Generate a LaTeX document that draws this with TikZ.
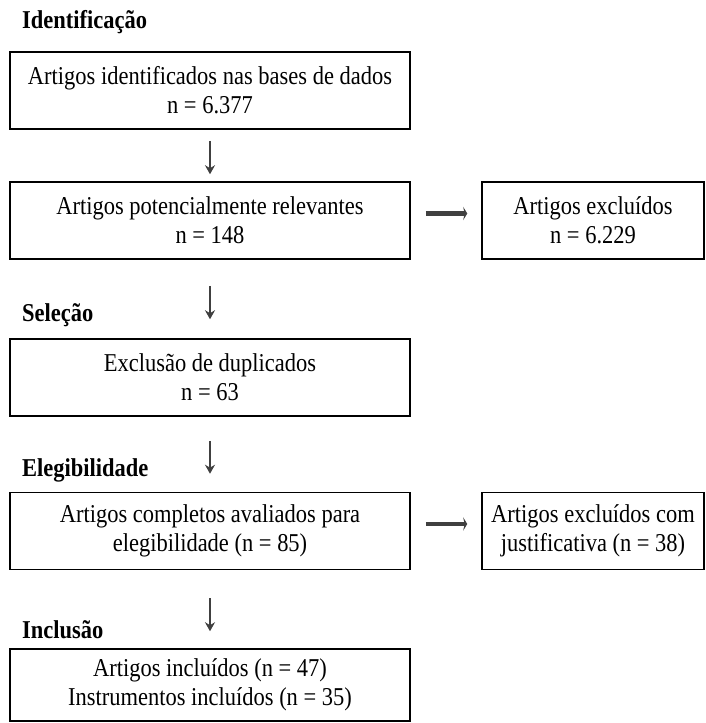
\documentclass[tikz,border=0pt]{standalone}
\usepackage{fontspec}
\setmainfont{Liberation Serif}[FakeStretch=0.875]
\usetikzlibrary{arrows.meta}
\tikzset{
  caixa/.style={draw, line width=1.5pt, align=center, minimum width=400pt, minimum height=77pt, inner sep=0pt, font=\fontsize{25.7}{29}\selectfont},
  caixadir/.style={caixa, minimum width=222pt},
  fase/.style={anchor=west, inner sep=0pt, font=\fontsize{25.7}{29}\selectfont\bfseries},
  seta/.style={draw=black!75, line width=1.8pt, -{Stealth[length=9pt,width=10pt]}},
  setagrossa/.style={draw=black!75, line width=4.5pt, -{Stealth[length=4pt,width=13pt]}}
}
\begin{document}
\begin{tikzpicture}[x=1pt,y=-1pt]
    \useasboundingbox (0,0) rectangle (705,723);
    % fases
    \node[fase] (ident) at (22,22) {Identificação};
    \node[fase] (selec) at (22,315) {Seleção};
    \node[fase] (elegi) at (22,470) {Elegibilidade};
    \node[fase] (inclu) at (22,630) {Inclusão};
    % caixas
    \node[caixa] (artid) at (210,90.5) {Artigos identificados nas bases de dados\\ n = 6.377};
    \node[caixa] (relev) at (210,220.5) {Artigos potencialmente relevantes\\ n = 148};
    \node[caixadir] (excl) at (593,220.5) {Artigos excluídos\\ n = 6.229};
    \node[caixa] (dupl) at (210,377.5) {Exclusão de duplicados\\ n = 63};
    \node[caixa] (compl) at (210,531) {Artigos completos avaliados para\\ elegibilidade (n = 85)};
    \node[caixadir] (exjus) at (593,531) {Artigos excluídos com\\ justificativa (n = 38)};
    \node[caixa, minimum height=72pt] (incl) at (210,685) {Artigos incluídos (n = 47)\\ Instrumentos incluídos (n = 35)};
    % setas
    \draw[seta, shorten <=11pt, shorten >=7pt] (artid) -- (relev);
    \draw[seta, shorten <=26pt, shorten >=19pt] (relev) -- (dupl);
    \draw[seta, shorten <=24pt, shorten >=18pt] (dupl) -- (compl);
    \draw[seta, shorten <=28pt, shorten >=17pt] (compl) -- (incl);
    \draw[setagrossa, shorten <=15pt, shorten >=14pt] ([yshift=7pt]relev.east) -- ([yshift=7pt]excl.west);
    \draw[setagrossa, shorten <=15pt, shorten >=14pt] ([yshift=7pt]compl.east) -- ([yshift=7pt]exjus.west);
\end{tikzpicture}
\end{document}
